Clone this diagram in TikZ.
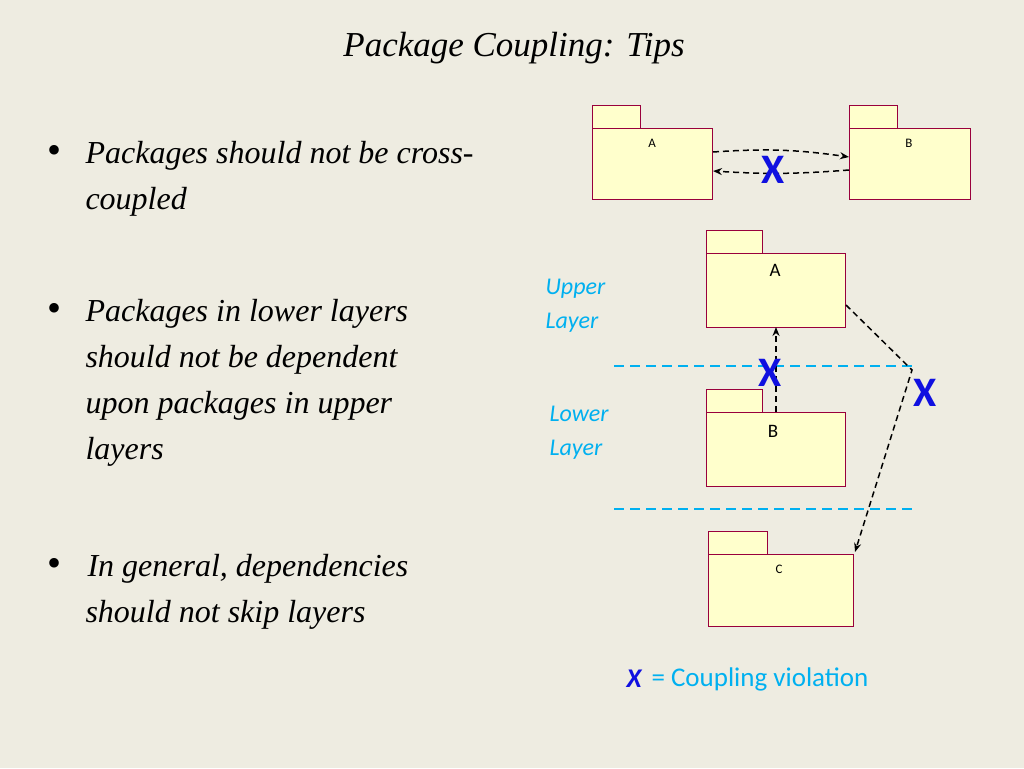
\documentclass[tikz,border=0pt]{standalone}
\usepackage{fontspec}
\setmainfont{Liberation Serif}
\newfontfamily\calibri{Carlito}
\usetikzlibrary{arrows.meta}
\definecolor{bgbeige}{HTML}{EEECE1}
\definecolor{pkgfill}{HTML}{FFFFCC}
\definecolor{pkgline}{HTML}{99003C}
\definecolor{layercyan}{HTML}{00B0F0}
\definecolor{violblue}{HTML}{1010E0}
\tikzset{
  pkg/.style={draw=pkgline, fill=pkgfill, line width=1pt, anchor=north west, inner sep=0pt},
  pkglabel/.style={font=\calibri\fontsize{#1}{#1}\selectfont, anchor=north},
  dep/.style={dash pattern=on 6pt off 4pt, line width=1.5pt, -{Stealth[length=9pt,width=7pt]}},
  cross/.style={text=violblue, font=\calibri\bfseries\fontsize{42}{42}\selectfont},
  layer/.style={text=layercyan, font=\calibri\itshape\fontsize{24}{34}\selectfont, align=left, anchor=west},
  bullet/.style={font=\itshape\fontsize{32}{46}\selectfont, align=left, anchor=north west}
}
\newcommand{\package}[6]{% name, x, y, width, height, tab width
  \draw[pkg] (#2,#3-23) rectangle ++(#6,23);
  \node[pkg, minimum width=#4pt, minimum height=#5pt] (#1) at (#2,#3) {};
}
\newcommand{\blt}{\makebox[38pt][l]{\upshape\fontsize{40}{46}\selectfont\textbullet}}
\begin{document}
\begin{tikzpicture}[x=1pt,y=-1pt]
\fill[bgbeige] (0,0) rectangle (1024,768);
\useasboundingbox (0,0) rectangle (1024,768);

% title
\node (title) at (514,48) {\itshape\fontsize{35}{40}\selectfont Package Coupling: Tips};

% bullets
\node[bullet] (b1) at (44,138) {\blt Packages should not be cross-\\\hspace{38pt}coupled};
\node[bullet] (b2) at (44,296) {\blt Packages in lower layers\\\hspace{38pt}should not be dependent\\\hspace{38pt}upon packages in upper\\\hspace{38pt}layers};
\node[bullet] (b3) at (44,551) {\blt\hspace{2pt}In general, dependencies\\\hspace{38pt}should not skip layers};

% cross-coupled pair
\package{pA}{592}{128}{120}{71}{48}
\package{pB}{849}{128}{121}{71}{48}
\node[pkglabel=13] at (652,136) {A};
\node[pkglabel=13] at (909,136) {B};
\draw[dep] ([yshift=-24pt]pA.north east) to[bend left=6] ([yshift=-29pt]pB.north west);
\draw[dep] ([yshift=-42pt]pB.north west) to[bend left=4] ([yshift=-43pt]pA.north east);
\node[cross] (x1) at (773,170) {X};

% layers
\node[layer] (upper) at (542,306) {Upper\\Layer};
\node[layer] (lower) at (546,433) {Lower\\Layer};
\draw[layercyan, dash pattern=on 10pt off 6pt, line width=1.8pt] (614,366) -- (913,366);
\draw[layercyan, dash pattern=on 10pt off 6pt, line width=1.8pt] (614,509) -- (913,509);

\package{uA}{706}{253}{139}{74}{56}
\package{lB}{706}{412}{139}{74}{56}
\package{lC}{708}{554}{145}{72}{59}
\node[pkglabel=19] at (775,261) {A};
\node[pkglabel=19] at (773,422) {B};
\node[pkglabel=13] at (779,562) {C};

\coordinate (bend) at (912,370);
\draw[dep] (776,412) -- (776,327);
\node[cross] (x2) at (770,373) {X};
\draw[dep] ([yshift=-52pt]uA.north east) -- (bend) -- (855,552);
\node[cross] (x3) at (925,393) {X};

% legend
\node[text=violblue, font=\calibri\bfseries\itshape\fontsize{27}{27}\selectfont] (lx) at (634,679) {X};
\node[text=layercyan, font=\calibri\fontsize{27}{27}\selectfont, anchor=west] (lt) at (648,679) {= Coupling violation};
\end{tikzpicture}
\end{document}
